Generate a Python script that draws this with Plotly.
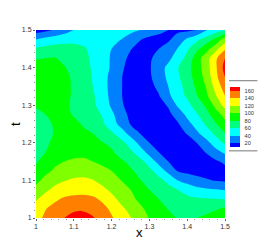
import plotly.graph_objects as go

x_vals = [1.0 + 0.025 * i for i in range(21)]
t_vals = [1.0 + 0.025 * i for i in range(21)]
z_vals = [
    [133,144,152,160,167,167,162,152,142,131,121,110,99,92,85,79,76,80,85,91,98],
    [126,139,146,152,156,157,153,146,136,124,114,104,94,87,79,73,70,70,72,77,83],
    [118,129,137,143,145,146,144,137,126,115,105,96,87,80,74,69,65,63,62,61,60],
    [106,116,125,130,133,133,131,125,116,107,100,90,80,71,65,60,52,46,43,41,39],
    [95,106,114,119,123,124,121,114,107,100,93,81,73,65,56,40,33,26,22,19,17],
    [85,95,103,108,111,112,110,106,100,92,83,74,65,52,34,19,15,13,12,12,13],
    [78,88,96,100,102,102,100,95,89,83,75,66,52,33,20,13,10,9,10,17,24],
    [74,80,87,93,96,97,94,89,83,72,64,50,33,20,12,9,8,12,21,33,44],
    [71,77,84,88,90,87,84,81,75,66,52,34,20,11,7,8,12,20,33,50,64],
    [72,76,81,85,85,82,80,71,63,50,33,20,11,7,8,14,21,36,50,64,80],
    [75,78,81,84,83,79,71,63,50,33,19,10,6,6,9,18,33,48,63,78,94],
    [78,80,83,83,79,73,67,59,44,29,15,8,6,9,15,28,45,58,74,90,108],
    [81,83,85,83,77,71,64,52,37,23,12,7,8,13,22,43,54,69,83,106,127],
    [86,87,87,84,78,71,63,49,35,21,12,9,13,19,36,51,63,79,96,118,140],
    [89,89,87,84,78,69,60,48,34,21,13,11,15,24,40,53,67,84,101,127,150],
    [88,88,87,83,78,68,59,47,35,21,13,12,17,30,44,57,71,88,107,134,160],
    [87,87,85,81,74,67,58,47,38,23,14,13,18,31,45,59,73,90,110,136,168],
    [79,80,81,76,71,65,57,48,38,26,16,12,18,25,35,50,66,90,111,136,160],
    [63,66,68,68,66,62,56,48,40,29,21,14,14,20,28,41,57,75,92,113,137],
    [40,46,50,53,55,55,54,50,46,40,33,21,15,13,17,29,43,55,69,85,110],
    [10,15,22,31,40,44,47,49,50,48,44,40,33,26,20,16,16,20,38,50,60],
]
legend_ticks = [20, 40, 60, 80, 100, 120, 140, 160]
axis_ticks = [1, 1.1, 1.2, 1.3, 1.4, 1.5]
axis_tick_text = ["1", "1.1", "1.2", "1.3", "1.4", "1.5"]
minor_ticks = [1 + 0.02 * i for i in range(26)]
band_colors = ["#0000ff", "#0080ff", "#00ffff", "#00ff80", "#00ff00",
               "#80ff00", "#ffff00", "#ff8000", "#ff0000"]

zmin, zmax = 10, 170
scale = []
for i, c in enumerate(band_colors):
    scale += [[i / 9, c], [(i + 1) / 9, c]]

W, H = 277, 246
L, R, T, B = 36, 225.5, 29.5, 218.5

fig = go.Figure(go.Contour(
    x=x_vals, y=t_vals, z=z_vals,
    zmin=zmin, zmax=zmax,
    colorscale=scale,
    autocontour=False,
    contours=dict(start=20, end=160, size=20, coloring="fill", showlines=False),
    line=dict(width=0, smoothing=1.0),
    colorbar=dict(
        x=(231 - L) / (R - L), xanchor="left", y=(B - 117) / (B - T), yanchor="middle",
        lenmode="pixels", len=60, thicknessmode="pixels", thickness=9.5,
        tickvals=legend_ticks, ticks="outside", ticklen=4, tickcolor="rgba(0,0,0,0)",
        outlinewidth=0, xpad=0, ypad=0,
        tickfont=dict(family="Liberation Sans", size=5.6, color="#333333"),
    ),
))
axis = dict(
    range=[1, 1.5], tickvals=axis_ticks, ticktext=axis_tick_text,
    ticks="outside", ticklen=2, tickcolor="#666666", tickwidth=1,
    showgrid=False, zeroline=False, showline=False, automargin=False,
    minor=dict(tickmode="array", tickvals=minor_ticks, ticks="outside", ticklen=1, tickcolor="#999999", tickwidth=1),
    tickfont=dict(family="Liberation Sans", size=7, color="#333333"),
)
fig.update_xaxes(**axis)
fig.update_yaxes(**axis)
title_font = dict(family="Liberation Sans", size=13, color="#000000")
fig.add_annotation(text="x", xref="paper", yref="paper", showarrow=False,
                   x=(140 - L) / (R - L), y=(B - 233.5) / (B - T), yanchor="middle",
                   font=title_font)
fig.add_annotation(text="t", xref="paper", yref="paper", showarrow=False, textangle=-90,
                   x=(15 - L) / (R - L), y=(B - 124) / (B - T), xanchor="center", yanchor="middle",
                   font=title_font)
for y in (80.5, 151):
    fig.add_shape(type="line", xref="paper", yref="paper",
                  x0=(229.5 - L) / (R - L), x1=(258 - L) / (R - L),
                  y0=(B - y) / (B - T), y1=(B - y) / (B - T),
                  line=dict(color="#777777", width=1))
fig.update_layout(
    width=W, height=H, autosize=False, paper_bgcolor="white", plot_bgcolor="white",
    margin=dict(l=L, r=W - R, t=T, b=H - B, autoexpand=False), showlegend=False,
)
fig.write_html("out.html", config={"displayModeBar": False},
               post_script="document.body.style.margin='0';")
